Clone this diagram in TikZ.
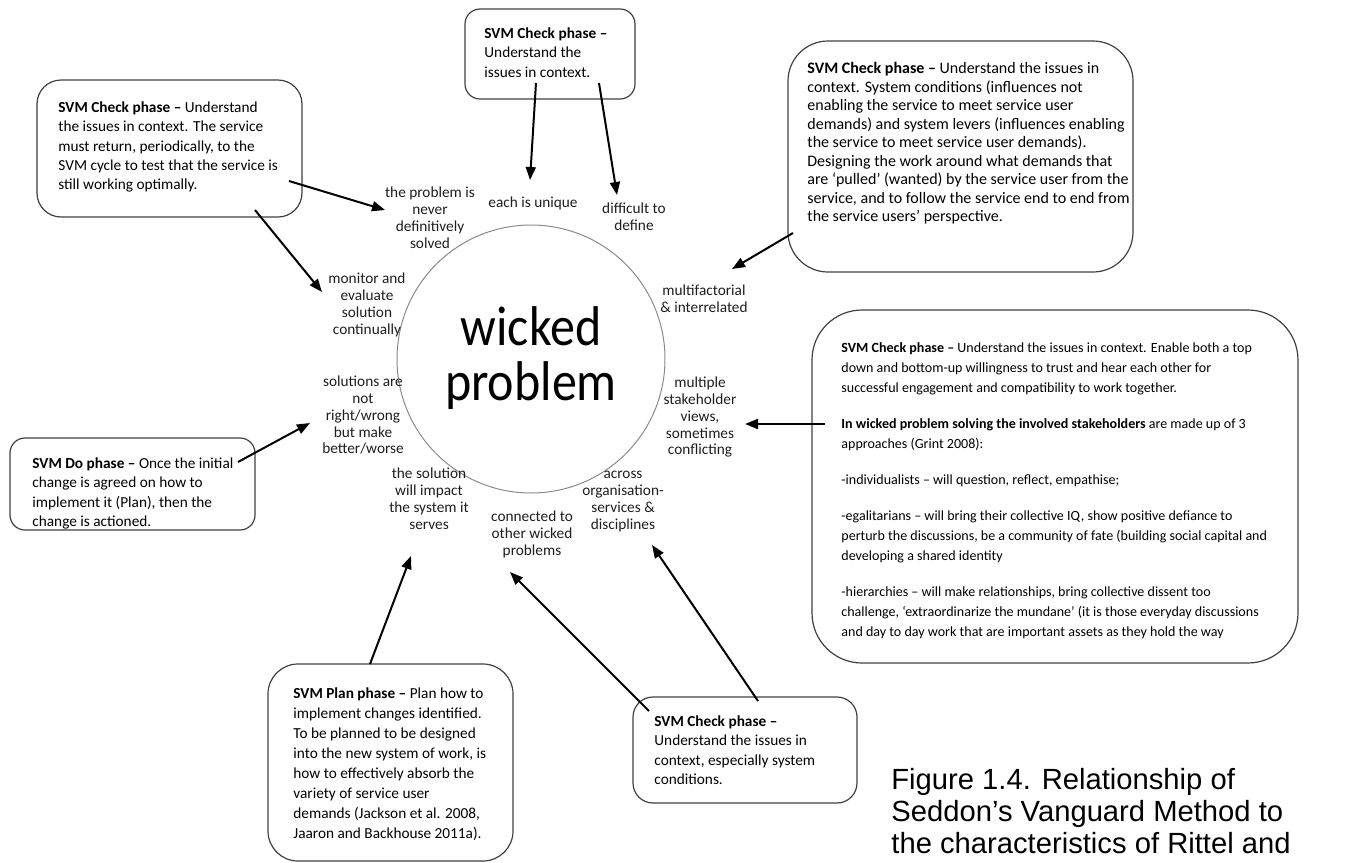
\documentclass[tikz,border=0pt]{standalone}
\usepackage{fontspec}
\setmainfont{Carlito}
\newfontfamily\capfont{Liberation Sans}
\usetikzlibrary{arrows.meta}
\definecolor{boxgray}{HTML}{404040}
\definecolor{ringgray}{HTML}{8A8A8A}
\definecolor{labelgray}{HTML}{1E1E1E}
\begin{document}
\begin{tikzpicture}[x=0.5pt,y=-0.5pt,
  box/.style={draw=boxgray, line width=0.6pt, inner sep=0pt, outer sep=0pt},
  txt/.style={anchor=north west, align=left, inner sep=0pt, text=black,
              font=\fontsize{7.65}{9.7}\selectfont},
  lbl/.style={anchor=north, align=center, inner sep=0pt, text=labelgray,
              font=\fontsize{7.65}{8.35}\selectfont},
  arr/.style={-{Triangle[length=6.5pt,width=5pt]}, line width=1pt, black},
  big/.style={anchor=base, inner sep=0pt, font=\fontsize{25}{30}\selectfont}]
\useasboundingbox (0,0) rectangle (1351,863);

% central circle
\node[circle, draw=ringgray, line width=0.5pt, minimum size=134pt, inner sep=0pt] (wp) at (531,359) {};
\node[big] (wk) at (531,345) {\scalebox{1}[1.12]{wicked}};
\node[big] (pb) at (531,400) {\scalebox{1}[1.12]{problem}};

% characteristics around the circle
\node[lbl] (l1) at (430,185.9) {\strut the problem is\\never\\definitively\\solved};
\node[lbl] (l2) at (533,195.9) {\strut each is unique};
\node[lbl] (l3) at (634,201.9) {\strut difficult to\\define};
\node[lbl] (l4) at (704,283.9) {\strut multifactorial\\\& interrelated};
\node[lbl] (l5) at (367,271.9) {\strut monitor and\\evaluate\\solution\\continually};
\node[lbl] (l6) at (363,374.9) {\strut solutions are\\not\\right/wrong\\but make\\better/worse};
\node[lbl] (l7) at (700,375.9) {\strut multiple\\stakeholder\\views,\\sometimes\\conflicting};
\node[lbl] (l8) at (429,466.9) {\strut the solution\\will impact\\the system it\\serves};
\node[lbl] (l9) at (532,509.9) {\strut connected to\\other wicked\\problems};
\node[lbl] (l10) at (623,466.9) {\strut across\\organisation-\\services \&\\disciplines};

% phase boxes
\node[box, rounded corners=7.5pt, minimum width=85pt, minimum height=45pt] (b1) at (550,54) {};
\node[txt] (t1) at (484,24.4) {\strut\textbf{SVM Check phase –}\\Understand the\\issues in context.};

\node[box, rounded corners=12pt, minimum width=132.5pt, minimum height=68.5pt] (b2) at (169.5,148.5) {};
\node[txt] (t2) at (58,98.4) {\strut\textbf{SVM Check phase –} Understand\\the issues in context. The service\\must return, periodically, to the\\SVM cycle to test that the service is\\still working optimally.};

\node[box, rounded corners=20pt, minimum width=172.5pt, minimum height=115.5pt] (b3) at (960.5,156.5) {};
\node[txt, font=\fontsize{8}{9.25}\selectfont] (t3) at (807,60.3) {\strut\textbf{SVM Check phase –} Understand the issues in\\context. System conditions (influences not\\enabling the service to meet service user\\demands) and system levers (influences enabling\\the service to meet service user demands).\\Designing the work around what demands that\\are ‘pulled’ (wanted) by the service user from the\\service, and to follow the service end to end from\\the service users’ perspective.};

\node[box, rounded corners=25pt, minimum width=243pt, minimum height=176.5pt] (b4) at (1055,486.5) {};
\node[txt, font=\fontsize{7.02}{10}\selectfont] (t4) at (841,338) {\strut\textbf{SVM Check phase –} Understand the issues in context. Enable both a top\\down and bottom-up willingness to trust and hear each other for\\successful engagement and compatibility to work together.\\[8pt]
\textbf{In wicked problem solving the involved stakeholders} are made up of 3\\approaches (Grint 2008):\\[8pt]
-individualists – will question, reflect, empathise;\\[8pt]
-egalitarians – will bring their collective IQ, show positive defiance to\\perturb the discussions, be a community of fate (building social capital and\\developing a shared identity\\[8pt]
-hierarchies – will make relationships, bring collective dissent too\\challenge, ‘extraordinarize the mundane’ (it is those everyday discussions\\and day to day work that are important assets as they hold the way};

\node[box, rounded corners=7.5pt, minimum width=122.5pt, minimum height=46pt] (b5) at (132.5,484) {};
\node[txt] (t5) at (32,454.4) {\strut\textbf{SVM Do phase –} Once the initial\\change is agreed on how to\\implement it (Plan), then the\\change is actioned.};

\node[box, rounded corners=15pt, minimum width=122.5pt, minimum height=98.5pt] (b6) at (390.5,762.5) {};
\node[txt, font=\fontsize{7.65}{10}\selectfont] (t6) at (293,684) {\strut\textbf{SVM Plan phase –} Plan how to\\implement changes identified.\\To be planned to be designed\\into the new system of work, is\\how to effectively absorb the\\variety of service user\\demands (Jackson et al. 2008,\\Jaaron and Backhouse 2011a).};

\node[box, rounded corners=10pt, minimum width=112pt, minimum height=53pt] (b7) at (745,750) {};
\node[txt] (t7) at (654,712.4) {\strut\textbf{SVM Check phase –}\\Understand the issues in\\context, especially system\\conditions.};

% caption
\node[anchor=north west, align=left, inner sep=0pt, font=\capfont\fontsize{14.6}{16}\selectfont] (cap) at (891,767) {\strut Figure 1.4. Relationship of\\Seddon’s Vanguard Method to\\the characteristics of Rittel and};

% connector end points
\coordinate (a1s) at (536,83);  \coordinate (a1e) at (530,180);
\coordinate (a2s) at (599,83);  \coordinate (a2e) at (617,195);
\coordinate (a3s) at (289,181); \coordinate (a3e) at (385,210);
\coordinate (a4s) at (255,210); \coordinate (a4e) at (322,292);
\coordinate (a5s) at (793,233); \coordinate (a5e) at (732,269);
\coordinate (a6s) at (825,424); \coordinate (a6e) at (745,424);
\coordinate (a7s) at (238,462); \coordinate (a7e) at (310,423);
\coordinate (a8s) at (370,664); \coordinate (a8e) at (411,556);
\coordinate (a9s) at (649,711); \coordinate (a9e) at (510,572);
\coordinate (a10s) at (758,701); \coordinate (a10e) at (652,545);

\draw[arr] (a1s) -- (a1e);
\draw[arr] (a2s) -- (a2e);
\draw[arr] (a3s) -- (a3e);
\draw[arr] (a4s) -- (a4e);
\draw[arr] (a5s) -- (a5e);
\draw[arr] (a6s) -- (a6e);
\draw[arr] (a7s) -- (a7e);
\draw[arr] (a8s) -- (a8e);
\draw[arr] (a9s) -- (a9e);
\draw[arr] (a10s) -- (a10e);
\end{tikzpicture}
\end{document}
